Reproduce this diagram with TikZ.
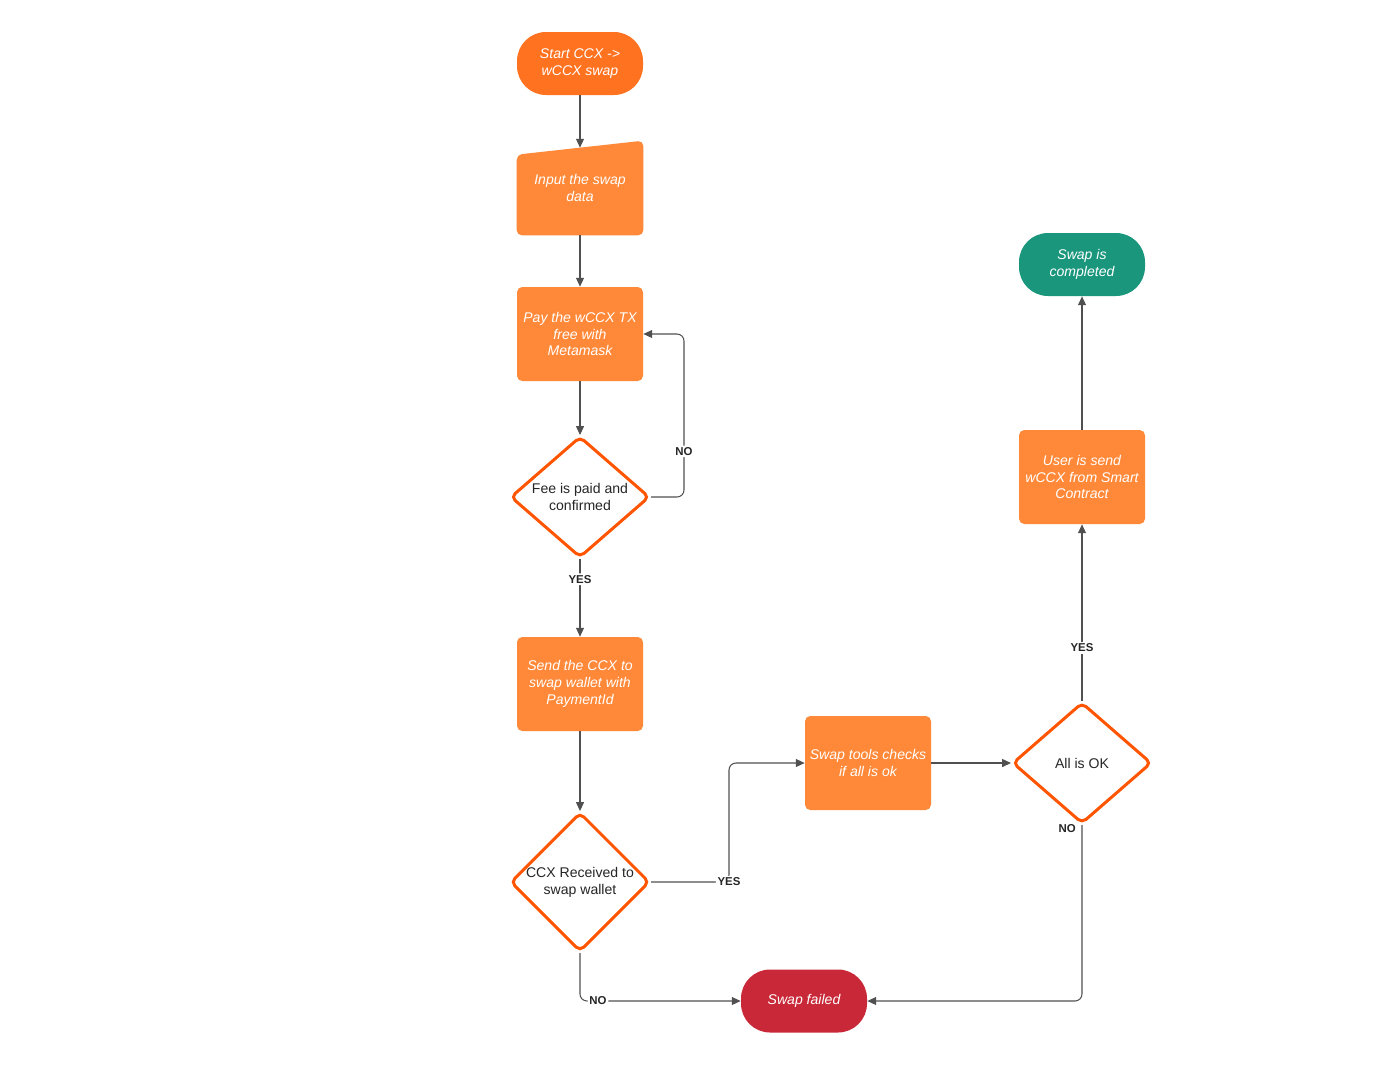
\documentclass[tikz,border=0pt]{standalone}
\usepackage{fontspec}
\setmainfont{Liberation Sans}
\definecolor{startOrange}{RGB}{255,114,32}
\definecolor{stepOrange}{RGB}{255,137,56}
\definecolor{edgeOrange}{RGB}{255,85,0}
\definecolor{doneTeal}{RGB}{26,150,124}
\definecolor{failRed}{RGB}{200,40,55}
\definecolor{lineGray}{RGB}{80,80,80}
\usetikzlibrary{arrows.meta, positioning, shapes.geometric, backgrounds, calc}

\begin{document}
\begin{tikzpicture}[
    term/.style={rectangle, rounded corners=0.58cm, fill=startOrange, text=white,
                 minimum width=2.52cm, minimum height=1.26cm, align=center,
                 font=\fontsize{8}{9.6}\selectfont\itshape, inner sep=2pt},
    proc/.style={rectangle, rounded corners=3pt, fill=stepOrange, text=white,
                 minimum width=2.52cm, minimum height=1.88cm, align=center,
                 font=\fontsize{8}{9.6}\selectfont\itshape, inner sep=2pt},
    dec/.style={diamond, draw=edgeOrange, line width=1.7pt, rounded corners=3pt,
                fill=white, text=black!85, minimum width=2.78cm, minimum height=2.42cm,
                align=center, font=\fontsize{8}{9.6}\selectfont, inner sep=-10pt},
    flow/.style={-{Triangle[length=5pt, width=4.5pt]}, draw=lineGray,
                 line width=0.6pt, rounded corners=4pt},
    lbl/.style={fill=white, inner sep=1pt, text=black!85,
                font=\fontsize{6.5}{7}\selectfont\bfseries}
  ]
    \useasboundingbox (0,0) rectangle (28,-21.64);

    \node[term] (start) at (11.6,-1.27) {Start CCX ->\\wCCX swap};
    \node[rectangle, minimum width=2.52cm, minimum height=1.88cm, align=center,
          text=white, font=\fontsize{8}{9.6}\selectfont\itshape] (input) at (11.6,-3.76)
          {Input the swap\\data};
    \begin{scope}[on background layer]
      \fill[stepOrange, rounded corners=3pt] (input.south west)
        -- ($(input.north west)+(0,-0.28)$) -- (input.north east)
        -- (input.south east) -- cycle;
    \end{scope}
    \coordinate (inTop) at ($(input.north)+(0,-0.14)$);

    \node[proc] (pay) at (11.6,-6.68) {Pay the wCCX TX\\free with\\Metamask};
    \node[dec] (fee) at (11.6,-9.94) {Fee is paid and\\confirmed};
    \node[proc] (send) at (11.6,-13.68) {Send the CCX to\\swap wallet with\\PaymentId};
    \node[dec, minimum height=2.78cm] (ccx) at (11.6,-17.64) {CCX Received to\\swap wallet};
    \node[proc] (tools) at (17.36,-15.26) {Swap tools checks\\if all is ok};
    \node[dec] (allok) at (21.64,-15.26) {All is OK};
    \node[proc] (user) at (21.64,-9.54) {User is send\\wCCX from Smart\\Contract};
    \node[term, fill=doneTeal] (done) at (21.64,-5.29) {Swap is\\completed};
    \node[term, fill=failRed] (failed) at (16.08,-20.02) {Swap failed};

    \draw[flow] (start) -- (inTop);
    \draw[flow] (input) -- (pay);
    \draw[flow] (pay) -- (fee);
    \draw[flow] (fee.east) -- ++(0.66,0) -- node[lbl, pos=0.28] {NO} ++(0,3.26) -- (pay.east);
    \draw[flow] (fee) -- node[lbl, pos=0.26] {YES} (send);
    \draw[flow] (send) -- (ccx);
    \draw[flow] (ccx.east) -- ++(1.56,0) node[lbl] {YES} |- (tools.west);
    \draw[flow] (tools) -- (allok);
    \draw[flow] (allok) -- node[lbl, pos=0.3] {YES} (user);
    \draw[flow] (user) -- (done);
    \draw[flow] (allok.south) node[lbl, fill=none, xshift=-8.5pt, yshift=-2pt] {NO} |- (failed.east);
    \draw[flow] (ccx.south) |- node[lbl, pos=0.556] {NO} (failed.west);
  \end{tikzpicture}
\end{document}
